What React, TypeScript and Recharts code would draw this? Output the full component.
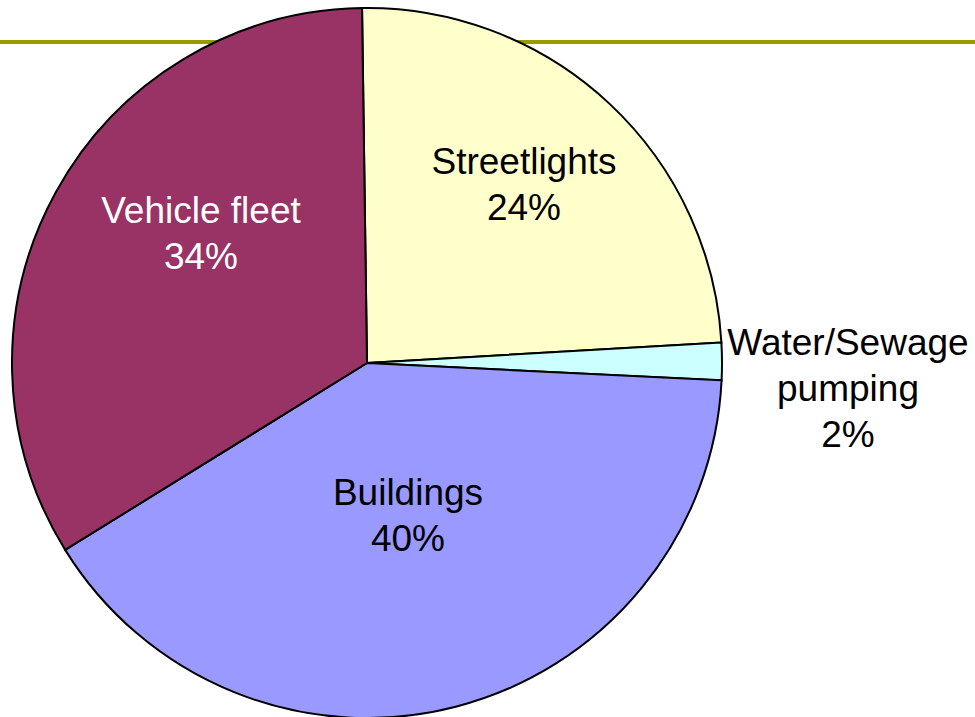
import React from 'react';
import { PieChart, Pie, Cell } from 'recharts';

// segment names, shares (percent) and fills, clockwise from 12 o'clock
const categories = ['Streetlights', 'Water/Sewage pumping', 'Buildings', 'Vehicle fleet'];
const shares = [24.3, 1.7, 40.4, 33.6];
const colors = ['#FFFFCC', '#CCFFFF', '#9999FF', '#993366'];

// label text lines (the percent line is added from the data)
const labelLines: Record<string, string[]> = {
  Streetlights: ['Streetlights'],
  'Water/Sewage pumping': ['Water/Sewage', 'pumping'],
  Buildings: ['Buildings'],
  'Vehicle fleet': ['Vehicle fleet'],
};

const data = categories.map((name, i) => ({ name, value: shares[i] }));

const CX = 367;
const CY = 363;
const R = 355;
const LINE_H = 46;

// where each label block sits, relative to the pie centre
const labelOffset: Record<string, { dx: number; dy: number; fill: string }> = {
  Streetlights: { dx: 157, dy: -179, fill: '#000' },
  'Water/Sewage pumping': { dx: 481, dy: 25, fill: '#000' },
  Buildings: { dx: 41, dy: 152, fill: '#000' },
  'Vehicle fleet': { dx: -166, dy: -130, fill: '#fff' },
};

const renderLabel = (props: any) => {
  const { name, percent } = props;
  const pos = labelOffset[name];
  const lines = [...labelLines[name], `${Math.round(percent * 100)}%`];
  const x = CX + pos.dx;
  const y0 = CY + pos.dy - ((lines.length - 1) * LINE_H) / 2;
  return (
    <text
      x={x}
      y={y0}
      textAnchor="middle"
      dominantBaseline="central"
      fill={pos.fill}
      fontSize={37}
      fontFamily="'Liberation Sans', Arial, sans-serif"
    >
      {lines.map((l, i) => (
        <tspan key={i} x={x} y={y0 + i * LINE_H}>
          {l}
        </tspan>
      ))}
    </text>
  );
};

export default function App() {
  return (
    <div style={{ position: 'absolute', left: 0, top: 0, width: 975, height: 717, background: '#fff' }}>
      <div style={{ position: 'absolute', left: 0, top: 40, width: 975, height: 4, background: '#999900' }} />
      <div style={{ position: 'absolute', left: 0, top: 0 }}>
        <PieChart width={975} height={717} margin={{ top: 0, right: 0, bottom: 0, left: 0 }}>
          <Pie
            data={data}
            dataKey="value"
            nameKey="name"
            cx={CX}
            cy={CY}
            outerRadius={R}
            startAngle={90.8}
            endAngle={-269.2}
            stroke="#000"
            strokeWidth={2}
            label={renderLabel}
            labelLine={false}
            isAnimationActive={false}
          >
            {data.map((d, i) => (
              <Cell key={d.name} fill={colors[i]} />
            ))}
          </Pie>
        </PieChart>
      </div>
    </div>
  );
}
